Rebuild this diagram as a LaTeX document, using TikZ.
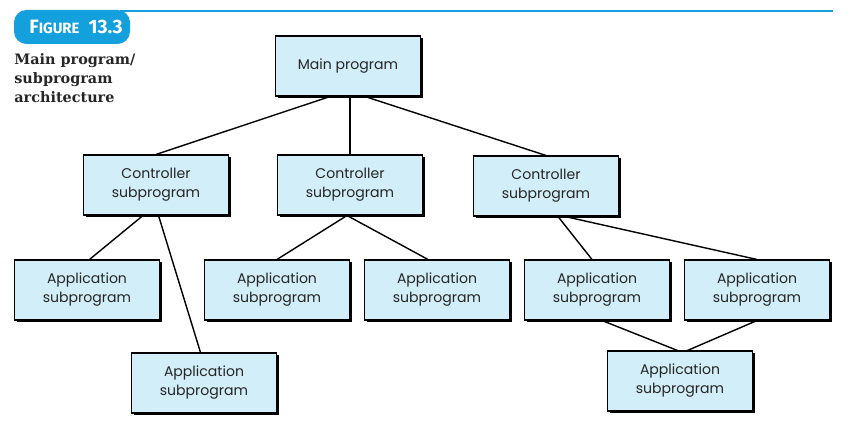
\documentclass[tikz,border=0pt]{standalone}
\usepackage{fontspec}
\setmainfont{Poppins}
\newfontfamily\capfont{DejaVu Serif}
\newfontfamily\figfont{Fira Sans}
\usetikzlibrary{shadows, positioning}
\definecolor{boxblue}{RGB}{210,238,249}
\definecolor{tabblue}{RGB}{20,160,220}
\tikzstyle{prog}=[fill=boxblue, draw=black, line width=0.6pt, minimum width=2.9cm, minimum height=1.2cm, align=center, text=black!85, font=\fontsize{8}{10.8}\selectfont, drop shadow={shadow xshift=0.45mm, shadow yshift=-0.45mm, fill=black, opacity=1}]
\tikzstyle{link}=[line width=0.8pt]

\begin{document}
\begin{tikzpicture}[x=0.02cm, y=-0.02cm]
	\useasboundingbox (0,0) rectangle (860,438);

	% header tab and rule
	\draw[tabblue, line width=1pt] (120,11) -- (833,11);
	\fill[tabblue, rounded corners=0.25cm] (14,10) rectangle (130,44);
	\node[text=white, font=\figfont\bfseries, anchor=west, inner sep=0pt] (fig) at (29,27) {{\fontsize{11}{11}\selectfont F}{\fontsize{8.5}{8.5}\selectfont IGURE}\fontsize{11}{11}\selectfont\ \ 13.3};
	\node[font=\capfont\bfseries\fontsize{8.2}{10.9}\selectfont, text=black!85, anchor=north west, align=left, inner sep=0pt] (cap) at (14,53) {Main program/\\subprogram\\architecture};

	\node[style=prog] (1) at (348,66) {Main program};
	\node[style=prog] (2) at (156,185) {Controller\\subprogram};
	\node[style=prog] (3) at (350,185) {Controller\\subprogram};
	\node[style=prog] (4) at (546,186) {Controller\\subprogram};
	\node[style=prog] (5) at (87,290) {Application\\subprogram};
	\node[style=prog] (6) at (277,290) {Application\\subprogram};
	\node[style=prog] (7) at (437,290) {Application\\subprogram};
	\node[style=prog] (8) at (597,290) {Application\\subprogram};
	\node[style=prog] (9) at (757,290) {Application\\subprogram};
	\node[style=prog] (10) at (204,383) {Application\\subprogram};
	\node[style=prog] (11) at (680,381) {Application\\subprogram};

	\draw[style=link] ([xshift=-0.36cm]1.south) to (2.north);
	\draw[style=link] (3.north) to (3.north |- 1.south);
	\draw[style=link] ([xshift=0.34cm]1.south) to (4.north);
	\draw[style=link] ([xshift=-0.26cm]2.south) to ([xshift=0.05cm]5.north);
	\draw[style=link] ([xshift=0.05cm]2.south) to ([xshift=-0.07cm]10.north);
	\draw[style=link] ([xshift=-0.06cm]3.south) to (6.north);
	\draw[style=link] ([xshift=-0.06cm]3.south) to ([xshift=-0.18cm]7.north);
	\draw[style=link] ([xshift=0.24cm]4.south) to ([xshift=-0.1cm]8.north);
	\draw[style=link] ([xshift=0.38cm]4.south) to (9.north);
	\draw[style=link] ([xshift=0.1cm]8.south) to ([xshift=-0.05cm]11.north);
	\draw[style=link] (9.south) to ([xshift=0.15cm]11.north);
\end{tikzpicture}
\end{document}
